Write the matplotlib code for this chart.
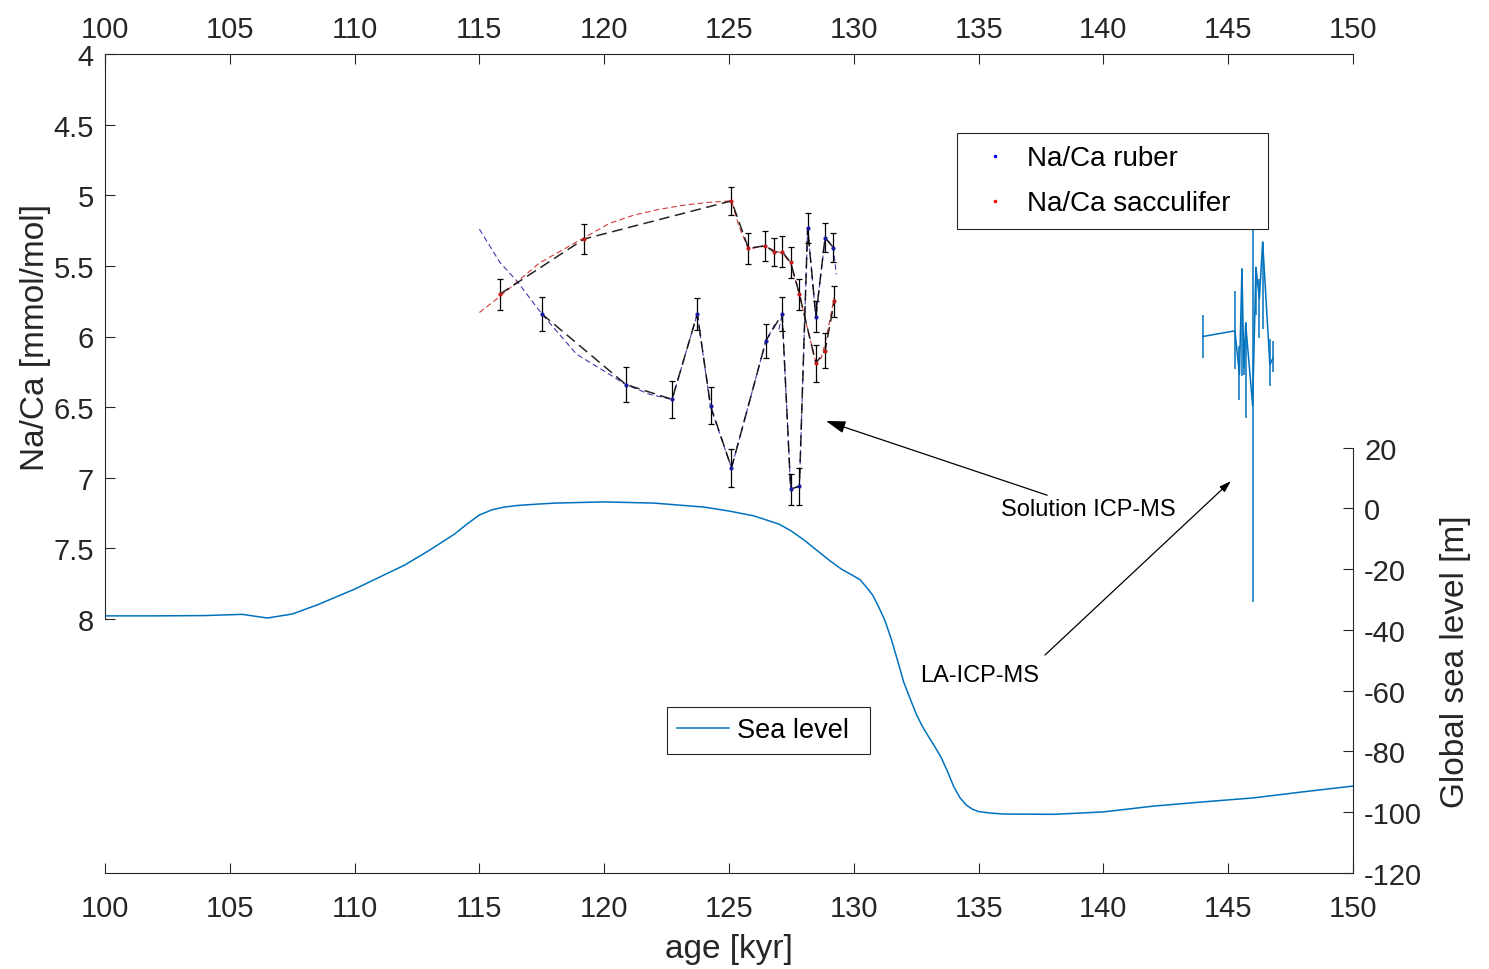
import matplotlib
matplotlib.use("Agg")
import matplotlib.pyplot as plt
from matplotlib.lines import Line2D
import numpy as np

plt.rcParams['font.family'] = ['Liberation Sans', 'DejaVu Sans']
plt.rcParams['axes.unicode_minus'] = False

# Solution ICP-MS, G. ruber
ruber_age = [117.5, 120.87, 122.72, 123.73, 124.26, 125.1, 126.48, 127.13,
             127.47, 127.82, 128.15, 128.48, 128.85, 129.18]
ruber_nac = [5.84, 6.34, 6.445, 5.84, 6.49, 6.93, 6.03, 5.84,
             7.08, 7.06, 5.23, 5.86, 5.30, 5.37]
ruber_err = [0.12, 0.125, 0.13, 0.115, 0.13, 0.135, 0.12, 0.12,
             0.11, 0.13, 0.105, 0.11, 0.105, 0.10]

# Solution ICP-MS, G. sacculifer
sacc_age = [115.82, 119.19, 125.1, 125.78, 126.45, 126.8, 127.13, 127.47,
            127.82, 128.48, 128.85, 129.22]
sacc_nac = [5.70, 5.31, 5.04, 5.376, 5.357, 5.40, 5.40, 5.475,
            5.70, 6.19, 6.10, 5.75]
sacc_err = [0.11, 0.105, 0.10, 0.11, 0.105, 0.10, 0.11, 0.11,
            0.11, 0.13, 0.125, 0.11]

# smoothed curves
ruber_fit_age = [115.0, 115.82, 116.49, 117.5, 118.89, 120.23, 120.87, 121.83,
                 122.72, 123.73, 124.26, 125.1, 126.48, 126.85]
ruber_fit_nac = [5.24, 5.475, 5.605, 5.84, 6.125, 6.27, 6.34, 6.41,
                 6.445, 5.84, 6.50, 6.93, 6.03, 5.91]
ruber_fit2_age = [127.0, 127.13, 127.47, 127.82, 128.15, 128.48, 128.85, 129.18, 129.3]
ruber_fit2_nac = [5.95, 5.84, 7.08, 7.06, 5.23, 5.86, 5.30, 5.37, 5.56]

sacc_fit_age = [115.0, 115.8, 116.6, 117.4, 118.3, 119.2, 120.2, 121.2, 122.2,
                123.2, 124.2, 125.1, 125.4, 125.78, 126.1, 126.45, 126.8, 127.13,
                127.47, 127.82, 128.15, 128.48, 128.7, 128.85, 129.0, 129.22]
sacc_fit_nac = [5.83, 5.72, 5.60, 5.48, 5.39, 5.30, 5.20, 5.14, 5.10,
                5.07, 5.05, 5.04, 5.22, 5.38, 5.37, 5.36, 5.39, 5.41,
                5.48, 5.70, 5.95, 6.18, 6.15, 6.05, 5.92, 5.72]

# LA-ICP-MS: values with lower / upper bounds of each bar
la_age = [143.98, 145.27, 145.45, 145.55, 145.63, 145.70, 145.98, 146.11,
          146.25, 146.38, 146.67, 146.80]
la_nac = [6.00, 5.96, 6.27, 5.52, 6.22, 5.91, 6.49, 5.51,
          5.73, 5.33, 6.20, 6.15]
la_lo = [5.85, 5.68, 6.07, 5.52, 6.17, 5.90, 5.22, 5.51,
         5.59, 5.33, 6.02, 6.03]
la_hi = [6.15, 6.23, 6.45, 6.28, 6.27, 6.58, 7.88, 5.85,
         6.01, 5.95, 6.35, 6.25]

# global sea level
sl_age = [100, 102, 104, 105.5, 106.5, 107.5, 108.5, 110, 112, 113, 114, 114.5,
          115, 115.5, 116, 116.5, 117, 118, 120, 122, 124, 125, 126, 127, 127.5,
          128, 128.5, 129, 129.5, 130, 130.25, 130.5, 130.75, 131, 131.25, 131.5,
          131.75, 132, 132.25, 132.5, 132.75, 133, 133.25, 133.5, 133.75, 134,
          134.25, 134.5, 134.75, 135, 135.5, 136, 138, 140, 142, 144, 146, 148, 150]
sl_m = [-35.4, -35.4, -35.3, -34.9, -36.1, -34.8, -31.8, -26.6, -18.7, -13.8, -8.5, -5.2,
        -2.2, -0.5, 0.4, 0.9, 1.2, 1.7, 2.1, 1.7, 0.4, -0.9, -2.5, -5.2, -7.5,
        -10.4, -13.7, -17.0, -20.0, -22.3, -23.5, -25.9, -28.5, -32.5, -37.0, -43.0,
        -50.0, -57.2, -62.5, -67.7, -71.8, -75.2, -78.5, -82.0, -86.5, -91.5,
        -95.2, -97.6, -99.0, -99.8, -100.3, -100.6, -100.7, -99.9, -98.0, -96.6, -95.3, -93.3, -91.4]

W, H = 1489, 970
grey = '#262626'
mblue = '#0072BD'

fig = plt.figure(figsize=(W / 100, H / 100), dpi=100)
ax1 = fig.add_axes([105 / W, 1 - 620 / H, 1248 / W, 565 / H])
ax2 = fig.add_axes([105 / W, 1 - 874 / H, 1248 / W, 425.5 / H])
for ax in (ax1, ax2):
    ax.patch.set_visible(False)
    ax.set_xlim(100, 150)
    ax.set_xticks(np.arange(100, 151, 5))
    ax.tick_params(direction='in', length=7, width=0.8, colors=grey, labelsize=21)
    for s in ax.spines.values():
        s.set_color(grey)
        s.set_linewidth(0.8)

# Na/Ca axes: top + left
ax1.xaxis.tick_top()
ax1.spines['right'].set_visible(False)
ax1.spines['bottom'].set_visible(False)
ax1.set_ylim(8, 4)
ax1.set_yticks(np.arange(4, 8.01, 0.5))
ax1.set_yticklabels(['4', '4.5', '5', '5.5', '6', '6.5', '7', '7.5', '8'])
ax1.tick_params(axis='x', pad=8)
ax1.tick_params(axis='y', pad=8)
ax1.set_ylabel('Na/Ca [mmol/mol]', fontsize=24, color=grey, labelpad=2)

# sea level axes: bottom + right
ax2.yaxis.tick_right()
ax2.yaxis.set_label_position('right')
ax2.spines['left'].set_visible(False)
ax2.spines['top'].set_visible(False)
ax2.set_ylim(-120, 20)
ax2.set_yticks(np.arange(-120, 21, 20))
ax2.tick_params(axis='x', pad=15)
ax2.tick_params(axis='y', pad=8)
ax2.set_ylabel('Global sea level [m]', fontsize=24, color=grey, labelpad=13)
ax2.set_xlabel('age [kyr]', fontsize=24, color=grey, labelpad=8)

sl_line, = ax2.plot(sl_age, sl_m, color=mblue, lw=1.1)

# smoothed curves
ax1.plot(ruber_fit_age, ruber_fit_nac, color='#3a3ab0', lw=0.8, dashes=(5, 3))
ax1.plot(ruber_fit2_age, ruber_fit2_nac, color='#3a3ab0', lw=0.8, dashes=(5, 3))
ax1.plot(sacc_fit_age, sacc_fit_nac, color='#d03a3a', lw=0.8, dashes=(5, 3))

# measured points with error bars
for a, v, e in ((ruber_age, ruber_nac, ruber_err), (sacc_age, sacc_nac, sacc_err)):
    ax1.plot(a, v, color='k', lw=1.1, dashes=(7, 3.6), alpha=0.85)
    ax1.errorbar(a, v, yerr=e, fmt='none', ecolor='k', elinewidth=0.9, capsize=2.5, capthick=0.9)
ax1.plot(ruber_age, ruber_nac, '.', color='#1a1aa0', ms=4)
ax1.plot(sacc_age, sacc_nac, '.', color='#c01a1a', ms=4)

la_yerr = [np.subtract(la_nac, la_lo), np.subtract(la_hi, la_nac)]
ax1.errorbar(la_age, la_nac, yerr=la_yerr, color=mblue, lw=1.1, elinewidth=1.1, capsize=0)

# legends
h1 = [Line2D([], [], ls='none', marker='.', ms=3, color='b'),
      Line2D([], [], ls='none', marker='.', ms=3, color='r')]
leg1 = ax1.legend(h1, ['Na/Ca ruber', 'Na/Ca sacculifer'], loc='upper left',
                  bbox_to_anchor=(957 / W, 1 - 225 / H, 311 / W, 91 / H),
                  bbox_transform=fig.transFigure, mode='expand',
                  borderaxespad=0, fontsize=20, fancybox=False, framealpha=1,
                  edgecolor=grey, handlelength=1.83, handletextpad=0.23,
                  borderpad=0.45, labelspacing=0.68)
leg1.get_frame().set_linewidth(0.8)
leg2 = ax2.legend([sl_line], ['Sea level'], loc='upper left',
                  bbox_to_anchor=(667 / W, 1 - 755 / H, 203 / W, 47 / H),
                  bbox_transform=fig.transFigure, mode='expand',
                  borderaxespad=0, fontsize=19.5, fancybox=False, framealpha=1,
                  edgecolor=grey, handlelength=1.9, handletextpad=0.3,
                  borderpad=0.38)
leg2.get_frame().set_linewidth(0.8)

# method labels
arrow = dict(arrowstyle='-|>,head_length=0.7,head_width=0.22', color='k', lw=0.9,
             shrinkA=0, shrinkB=0)
ax1.annotate('Solution ICP-MS', xy=(826 / W, 1 - 422 / H), xycoords='figure fraction',
             xytext=(1001 / W, 1 - 510 / H), textcoords='figure fraction',
             fontsize=17, ha='left', va='center', arrowprops=arrow, annotation_clip=False)
ax1.annotate('', xy=(1231 / W, 1 - 482 / H), xycoords='figure fraction',
             xytext=(1045 / W, 1 - 656 / H), textcoords='figure fraction',
             arrowprops=arrow, annotation_clip=False)
fig.text(920 / W, 1 - 676 / H, 'LA-ICP-MS', fontsize=17, ha='left', va='center')

fig.savefig('out.png', dpi=100)
